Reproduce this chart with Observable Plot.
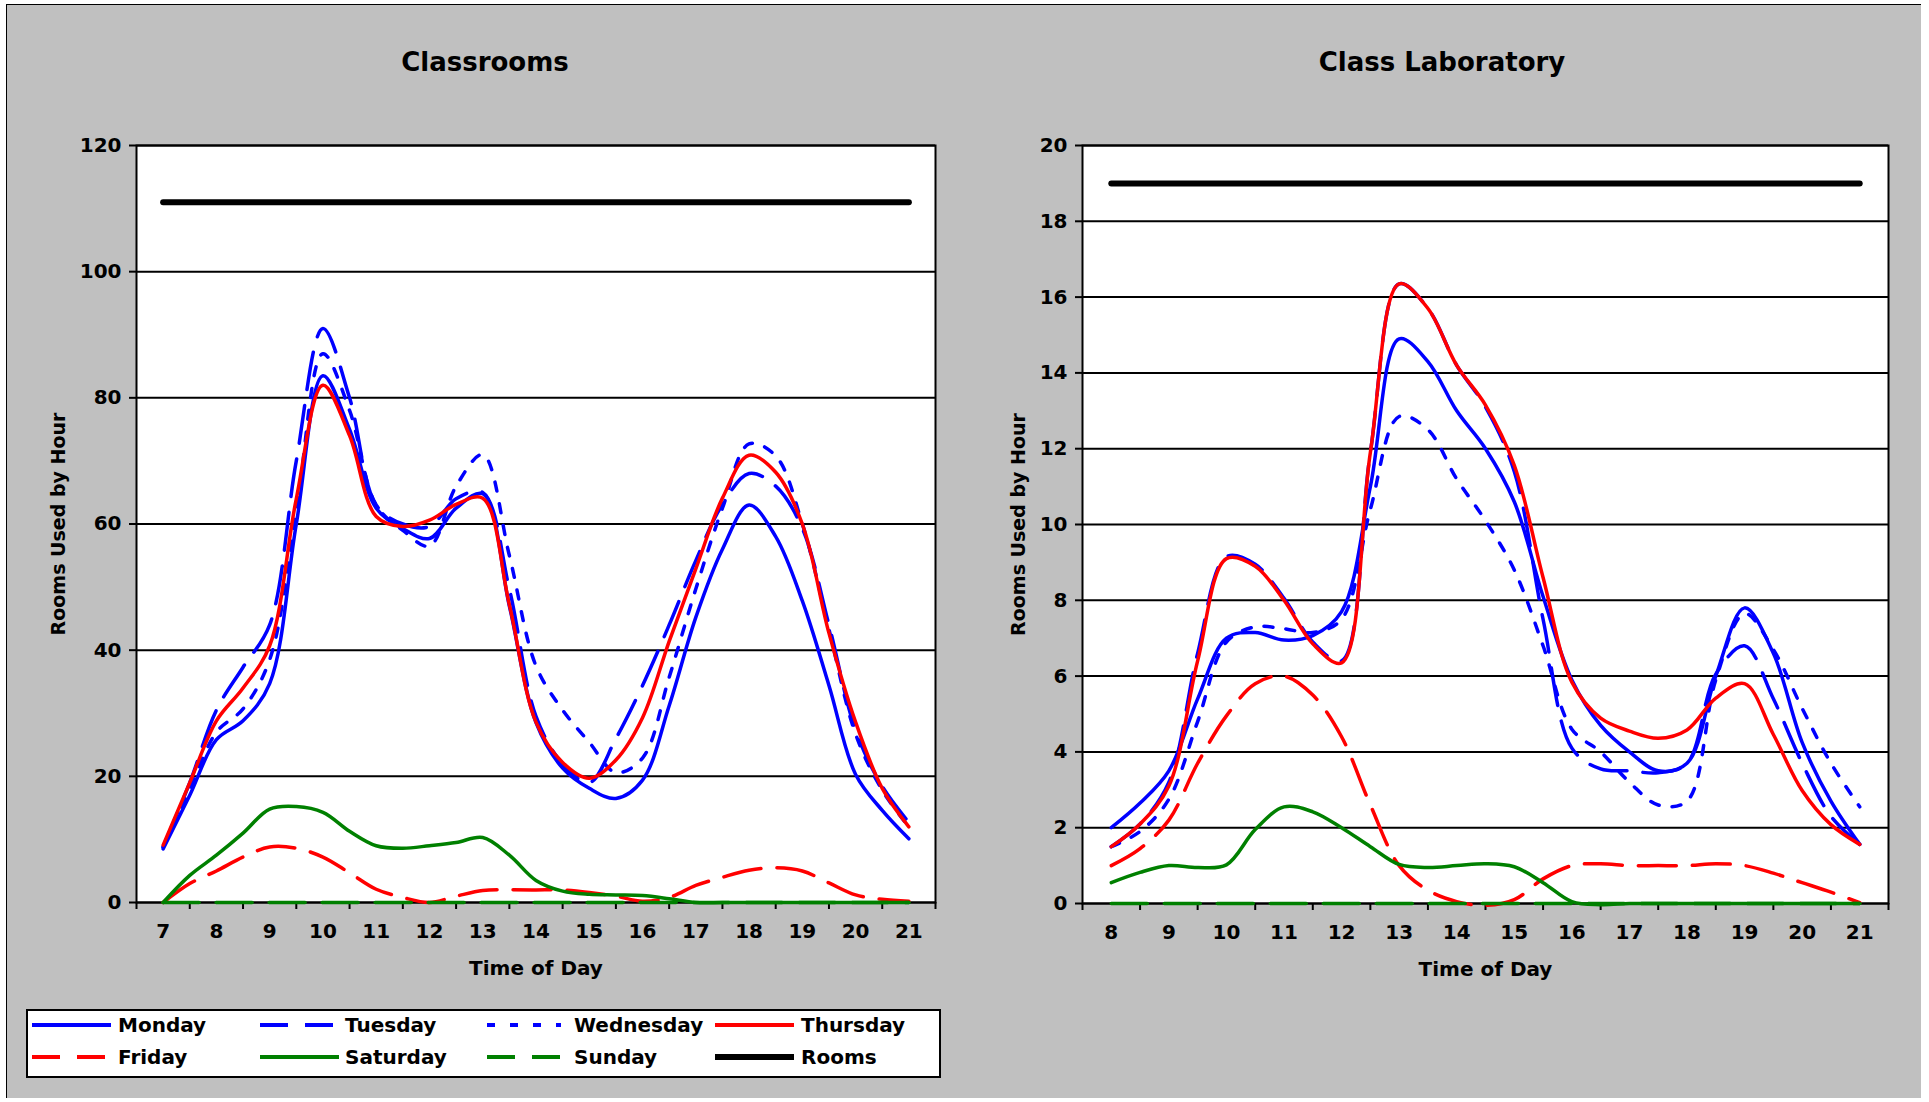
<!DOCTYPE html>
<html>
<head>
<meta charset="utf-8">
<script src="https://cdn.jsdelivr.net/npm/d3@7"></script>
<script src="https://cdn.jsdelivr.net/npm/@observablehq/plot@0.6"></script>
<style>
  html, body { margin: 0; padding: 0; background: #ffffff; }
  body { width: 1929px; height: 1102px; position: relative; overflow: hidden; font-family: "DejaVu Sans", sans-serif; }
  #bg { position: absolute; left: 6px; top: 4px; width: 1914px; height: 1093px; background: #c0c0c0; border-top: 1px solid #000; border-left: 1px solid #000; }
  .title { position: absolute; top: 44px; height: 36px; line-height: 36px; font-weight: bold; font-size: 26px; transform: translateX(-50%); white-space: nowrap; color: #000; }
  .chart { position: absolute; top: 0; }
  #legend { position: absolute; left: 26px; top: 1009px; width: 915px; height: 69px; box-sizing: border-box; background: #fff; border: 2px solid #000; }
  .sw { position: absolute; height: 12px; }
  .lt { position: absolute; height: 30px; line-height: 30px; font-weight: bold; font-size: 20px; color: #000; white-space: nowrap; }
</style>
</head>
<body>
<div id="bg"></div>
<div class="title" style="left:485px">Classrooms</div>
<div class="title" style="left:1442px">Class Laboratory</div>
<div id="left" class="chart" style="left:0px"></div>
<div id="right" class="chart" style="left:960px"></div>
<div id="legend"></div>
<script>
// ---------- Data: Classrooms ----------
const classTimes = [7,7.5,8,8.5,9,9.5,10,10.5,11,11.5,12,12.5,13,13.5,14,14.5,15,15.5,16,16.5,17,17.5,18,18.5,19,19.5,20,20.5,21];
const classHourLabels = [7,8,9,10,11,12,13,14,15,16,17,18,19,20,21];
const classYTicks = [0,20,40,60,80,100,120];
const classRooms = 111;
const classMonday    = [8.5,17,25.8,28.8,34.7,60,83.5,75,62.5,59.3,57.7,62.5,64.8,47,28.5,21.3,18.1,16.5,19.4,31.2,45.2,56,63,58,47.8,34.4,20.3,14.6,10.1];
const classTuesday   = [8.8,19,30.5,37.3,44,70,91,80,63,60,59.6,64,65,49.7,29.5,22,19,26,34.4,44,54.2,63.1,68,66,59.3,44,27.3,18.4,12.7];
const classWednesday = [8.8,18,27,30.7,38.5,62,87,78,63,59,56.5,66,71,55,37.5,30.5,25.4,20.6,22.9,35.7,49.7,62.5,72.7,70.8,60,43.3,26.7,17.8,12];
const classThursday  = [9.1,19,28.8,34,40.7,64,82,74,61.2,59.6,60.6,63.1,64.1,47.2,28.6,22.2,19.7,22.6,29.3,41.4,52.9,64.1,70.9,68.2,60,42.7,28.6,18.1,12];
const classFriday    = [0,3,5,7.2,8.8,8.6,7.2,4.7,2.1,0.8,0,1,1.9,2,2,2,1.6,1,0.2,0.8,2.7,4,5.1,5.5,5,3.1,1.2,0.5,0.2];
const classSaturday  = [0,4.3,7.5,11,14.8,15.2,14.3,11.3,9,8.6,9,9.5,10.3,7.5,3.5,1.8,1.3,1.2,1.1,0.6,0,0,0,0,0,0,0,0,0];
const classSunday    = [0,0,0,0,0,0,0,0,0,0,0,0,0,0,0,0,0,0,0,0,0,0,0,0,0,0,0,0,0];

// ---------- Data: Class Laboratory ----------
const labTimes = [8,8.5,9,9.5,10,10.5,11,11.5,12,12.5,13,13.5,14,14.5,15,15.5,16,16.5,17,17.5,18,18.5,19,19.5,20,20.5,21];
const labHourLabels = [8,9,10,11,12,13,14,15,16,17,18,19,20,21];
const labYTicks = [0,2,4,6,8,10,12,14,16,18,20];
const labRooms = 19;
const labMonday    = [2,2.65,3.5,5.4,7,7.15,6.95,7.07,7.7,11,14.9,14.3,13,12,10.6,8.1,5.9,4.7,4,3.5,3.7,6,7.8,6.6,4.25,2.7,1.56];
const labTuesday   = [1.5,2.1,3.2,6.6,9.15,8.95,8.05,6.9,6.4,11.9,16.35,15.7,14.2,13.1,11.4,7.5,4.1,3.55,3.5,3.45,3.7,6.05,6.8,5.4,3.7,2.3,1.56];
const labWednesday = [1.5,1.9,2.75,4.8,6.9,7.3,7.25,7.15,7.5,10.4,12.85,12.5,11.2,10.1,8.8,6.8,4.6,4,3.2,2.6,2.7,5.9,7.65,6.7,5.15,3.7,2.55];
const labThursday  = [1.5,2.1,3.1,6.4,9.1,8.9,8,6.85,6.35,11.9,16.35,15.7,14.2,13.15,11.56,8.6,5.84,4.89,4.55,4.36,4.58,5.42,5.8,4.46,2.98,2.08,1.56];
const labFriday    = [1,1.45,2.2,3.7,4.95,5.8,6,5.5,4.4,2.6,1,0.35,0.05,-0.05,0.1,0.65,1,1.05,1,1,1,1.05,1,0.8,0.55,0.3,0.02];
const labSaturday  = [0.55,0.82,1,0.95,1.02,1.95,2.55,2.42,2,1.5,1.03,0.95,1,1.05,0.97,0.55,0.05,-0.03,0,0,0,0,0,0,0,0,0];
const labSunday    = [0,0,0,0,0,0,0,0,0,0,0,0,0,0,0,0,0,0,0,0,0,0,0,0,0,0,0];

const days = ["Monday","Tuesday","Wednesday","Thursday","Friday","Saturday","Sunday"];
const dayColors = {Monday:"#0000ff",Tuesday:"#0000ff",Wednesday:"#0000ff",Thursday:"#ff0000",Friday:"#ff0000",Saturday:"#008000",Sunday:"#008000"};
const dayDash = {Monday:null,Tuesday:"38,16",Wednesday:"9,13",Thursday:null,Friday:"38,16",Saturday:null,Sunday:"36,17"};
const legendDash = {Monday:null,Tuesday:"28,17",Wednesday:"8,15",Thursday:null,Friday:"28,17",Saturday:null,Sunday:"28,17"};

function makeChart(cfg) {
  const rows = [];
  cfg.series.forEach((vals, k) => vals.forEach((v, i) => rows.push({day: days[k], t: cfg.times[i], v})));
  const roomsRows = [{t: cfg.times[0], v: cfg.rooms}, {t: cfg.times[cfg.times.length - 1], v: cfg.rooms}];
  const bounds = cfg.hourLabels.map(h => h - 0.5).concat([cfg.hourLabels[cfg.hourLabels.length - 1] + 0.5]);
  const marks = [
    Plot.frame({fill: "white", stroke: null}),
    Plot.ruleY(cfg.yTicks, {stroke: "black", strokeWidth: 2}),
    Plot.axisY({ticks: cfg.yTicks, tickSize: 7, tickPadding: 8, strokeWidth: 2, label: null, tickFormat: d => String(d)}),
    Plot.axisX({ticks: bounds, tickSize: 7, strokeWidth: 2, tickFormat: () => "", label: null}),
    Plot.axisX({ticks: cfg.hourLabels, tickSize: 0, tickPadding: 21, label: null, tickFormat: d => String(d)}),
    Plot.frame({stroke: "black", strokeWidth: 2}),
  ];
  days.forEach(day => {
    const opts = {x: "t", y: "v", stroke: dayColors[day], strokeWidth: 3.5, curve: "catmull-rom"};
    if (dayDash[day]) opts.strokeDasharray = dayDash[day];
    marks.push(Plot.line(rows.filter(d => d.day === day), opts));
  });
  marks.push(Plot.line(roomsRows, {x: "t", y: "v", stroke: "black", strokeWidth: 6}));
  marks.push(Plot.text(["Time of Day"], {text: d => d, frameAnchor: "bottom", dy: 66, lineAnchor: "middle", fontSize: 20, fontWeight: "bold"}));
  marks.push(Plot.text(["Rooms Used by Hour"], {text: d => d, frameAnchor: "left", dx: cfg.ylabelDx, rotate: -90, textAnchor: "middle", lineAnchor: "middle", fontSize: 19, fontWeight: "bold"}));
  return Plot.plot({
    width: cfg.width, height: cfg.height,
    marginLeft: cfg.marginLeft, marginRight: cfg.marginRight, marginTop: cfg.marginTop, marginBottom: cfg.marginBottom,
    style: {background: "transparent", fontFamily: "DejaVu Sans, sans-serif", fontSize: "20px", fontWeight: "bold", color: "black"},
    x: {domain: [bounds[0], bounds[bounds.length - 1]], axis: null, label: null},
    y: {domain: [0, cfg.yTicks[cfg.yTicks.length - 1]], axis: null, label: null},
    marks
  });
}

document.getElementById("left").appendChild(makeChart({
  times: classTimes, hourLabels: classHourLabels, yTicks: classYTicks, rooms: classRooms,
  series: [classMonday, classTuesday, classWednesday, classThursday, classFriday, classSaturday, classSunday],
  width: 960, height: 1000, marginLeft: 136, marginRight: 25, marginTop: 145, marginBottom: 98, ylabelDx: -78
}));
document.getElementById("right").appendChild(makeChart({
  times: labTimes, hourLabels: labHourLabels, yTicks: labYTicks, rooms: labRooms,
  series: [labMonday, labTuesday, labWednesday, labThursday, labFriday, labSaturday, labSunday],
  width: 960, height: 1000, marginLeft: 122, marginRight: 32, marginTop: 145, marginBottom: 97, ylabelDx: -64
}));

// ---------- Legend ----------
const legendNames = ["Monday","Tuesday","Wednesday","Thursday","Friday","Saturday","Sunday","Rooms"];
const swX = [32, 260, 487, 715];
const txX = [118, 345, 574, 801];
const rowY = [1025, 1057];
legendNames.forEach((name, i) => {
  const col = i % 4, row = Math.floor(i / 4);
  const isRooms = name === "Rooms";
  const color = isRooms ? "#000" : dayColors[name];
  const dash = isRooms ? null : legendDash[name];
  const len = dash ? 74 : 79;
  const svg = d3.create("svg").attr("class", "sw").attr("width", 80).attr("height", 12)
    .style("left", swX[col] + "px").style("top", (rowY[row] - 6) + "px");
  svg.append("line").attr("x1", 0).attr("x2", len).attr("y1", 6).attr("y2", 6)
    .attr("stroke", color).attr("stroke-width", isRooms ? 6 : 4)
    .attr("stroke-dasharray", dash);
  document.body.appendChild(svg.node());
  const t = document.createElement("div");
  t.className = "lt";
  t.style.left = txX[col] + "px";
  t.style.top = (rowY[row] - 15) + "px";
  t.textContent = name;
  document.body.appendChild(t);
});
</script>
</body>
</html>
